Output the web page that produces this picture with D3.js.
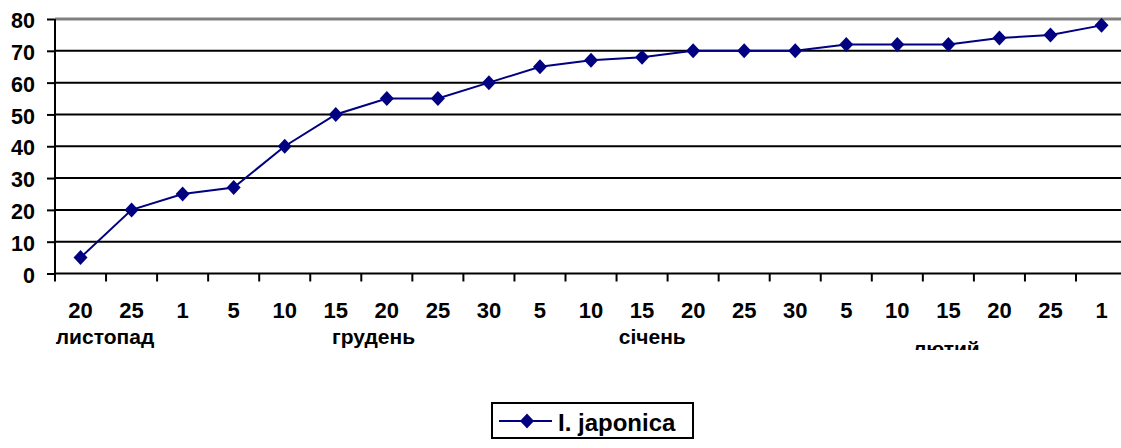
<!DOCTYPE html>
<html>
<head>
<meta charset="utf-8">
<script src="https://cdn.jsdelivr.net/npm/d3@7"></script>
<style>
  html, body { margin: 0; padding: 0; background: #fff; overflow: hidden; }
  svg { display: block; font-family: "Liberation Sans", Arial, sans-serif; }
</style>
</head>
<body>
<svg id="chart" width="1121" height="448"></svg>
<script>
// ---- data ----
const dayLabels = ["20","25","1","5","10","15","20","25","30","5","10","15","20","25","30","5","10","15","20","25","1"];
const values = [5,20,25,27,40,50,55,55,60,65,67,68,70,70,70,72,72,72,74,75,78];
const monthNames = ["листопад","грудень","січень","лютий"];
const yTicks = [0,10,20,30,40,50,60,70,80];
const seriesName = "I. japonica";

// ---- layout ----
const W = 1121, H = 448;
const mLeft = 55, mTop = 19, plotH = 254.5, catW = 51.05;
const plotW = catW * dayLabels.length;
const svg = d3.select("#chart");
const navy = "#000080";

const x = d3.scaleBand().domain(d3.range(dayLabels.length)).range([mLeft, mLeft + plotW]).paddingInner(0).paddingOuter(0);
const y = d3.scaleLinear().domain([0, 80]).range([mTop + plotH, mTop]);

// gridlines
svg.append("g").selectAll("line").data(yTicks.filter(v => v > 0)).join("line")
  .attr("x1", mLeft).attr("x2", W)
  .attr("y1", d => y(d)).attr("y2", d => y(d))
  .attr("stroke", d => d === 80 ? "#808080" : "#000")
  .attr("stroke-width", d => d === 80 ? 3 : 2);

// y axis
const yAxis = d3.axisLeft(y).tickValues(yTicks).tickSize(8).tickPadding(8).tickFormat(d3.format("d"));
const gy = svg.append("g").attr("transform", `translate(${mLeft},0)`).call(yAxis);
gy.select(".domain").attr("stroke", "#000").attr("stroke-width", 2).attr("d", `M0,${mTop + plotH}V${mTop}`);
gy.selectAll(".tick line").attr("stroke", "#000").attr("stroke-width", 2);
gy.selectAll(".tick text").attr("font-size", 21.5).attr("font-weight", "bold").attr("fill", "#000")
  .attr("x", -20).attr("dy", "0.4em").attr("font-family", "'Liberation Sans', Arial, sans-serif");

// x axis
const xAxis = d3.axisBottom(x).tickFormat(i => dayLabels[i]).tickSize(0).tickPadding(0);
const gx = svg.append("g").attr("transform", `translate(0,${mTop + plotH})`).call(xAxis);
gx.select(".domain").attr("stroke", "#000").attr("stroke-width", 2).attr("d", `M${mLeft},0H${W}`);
gx.selectAll(".tick text").attr("font-size", 22).attr("font-weight", "bold").attr("fill", "#000")
  .attr("y", 44.5).attr("dy", 0).attr("font-family", "'Liberation Sans', Arial, sans-serif");
// tick marks between categories
svg.append("g").selectAll("line").data(d3.range(dayLabels.length + 1)).join("line")
  .attr("x1", i => mLeft + i * x.step()).attr("x2", i => mLeft + i * x.step())
  .attr("y1", mTop + plotH).attr("y2", mTop + plotH + 8)
  .attr("stroke", "#000").attr("stroke-width", 2);

// month labels (anchored at category positions)
const monthAt = [0.48, 5.74, 11.2, 16.96];
svg.append("g").selectAll("text").data(monthNames).join("text")
  .attr("x", (d, i) => mLeft + (monthAt[i] + 0.5) * x.step())
  .attr("y", (d, i) => i === 3 ? 356 : 344)
  .attr("text-anchor", "middle")
  .attr("font-size", 21).attr("font-weight", "bold").attr("fill", "#000")
  .text(d => d);
// clip the last month label like the reference
svg.append("rect").attr("x", 880).attr("y", 350).attr("width", 120).attr("height", 20).attr("fill", "#fff");

// line
const cx = i => x(i) + x.bandwidth() / 2;
svg.append("path").datum(values)
  .attr("fill", "none").attr("stroke", navy).attr("stroke-width", 2)
  .attr("d", d3.line().x((d, i) => cx(i)).y(d => y(d)));

const diamond = (hw, hh) => `M0,${-hh}L${hw},0L0,${hh}L${-hw},0Z`;
svg.append("g").selectAll("path").data(values).join("path")
  .attr("transform", (d, i) => `translate(${cx(i)},${y(d)})`)
  .attr("d", diamond(7, 7.5)).attr("fill", navy);

// legend
const lg = svg.append("g");
lg.append("rect").attr("x", 492).attr("y", 403).attr("width", 201).attr("height", 35)
  .attr("fill", "#fff").attr("stroke", "#000").attr("stroke-width", 2);
lg.append("line").attr("x1", 499).attr("x2", 552).attr("y1", 421).attr("y2", 421)
  .attr("stroke", navy).attr("stroke-width", 2);
lg.append("path").attr("transform", "translate(527,421)").attr("d", diamond(7, 7.5)).attr("fill", navy);
lg.append("text").attr("x", 558).attr("y", 431).attr("font-size", 24).attr("font-weight", "bold")
  .attr("fill", "#000").text(seriesName);
</script>
</body>
</html>
